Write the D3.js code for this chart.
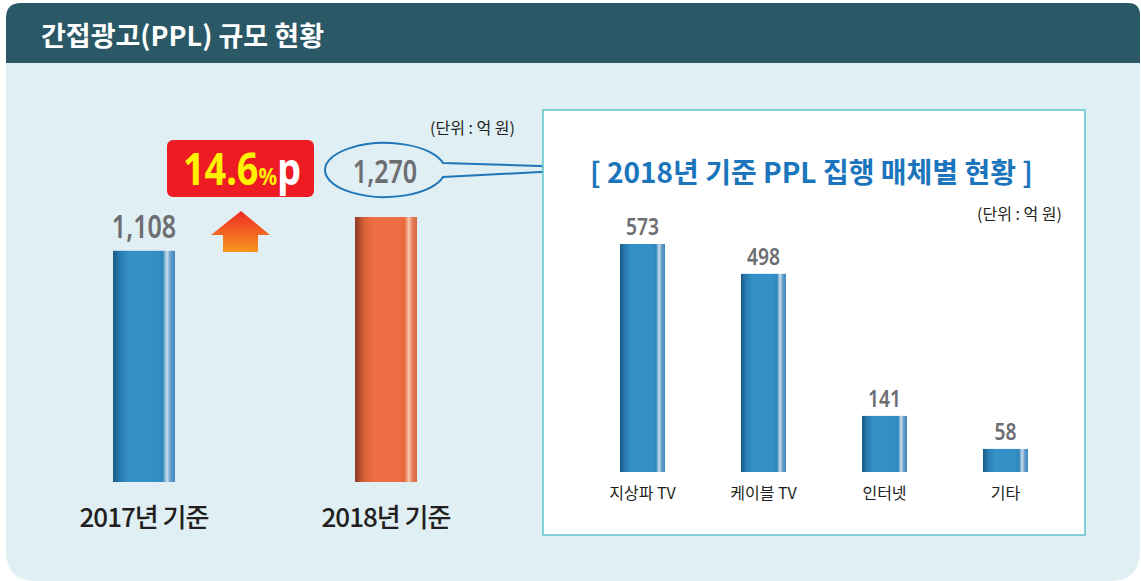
<!DOCTYPE html>
<html>
<head>
<meta charset="utf-8">
<script src="https://cdn.jsdelivr.net/npm/d3@7"></script>
<style>
  html, body { margin: 0; padding: 0; background: #ffffff; }
  svg { display: block; font-family: "Noto Sans CJK KR", "Noto Sans", sans-serif; }
</style>
</head>
<body>
<div id="chart"></div>
<script>
// data
var yearLabels = ["2017년 기준", "2018년 기준"];
var yearValues = [1108, 1270];
var mediaLabels = ["지상파 TV", "케이블 TV", "인터넷", "기타"];
var mediaValues = [573, 498, 141, 58];
var growthParts = ["14.6", "%", "p"];
var titleText = "간접광고(PPL) 규모 현황";
var subTitleText = "[ 2018년 기준 PPL 집행 매체별 현황 ]";
var unitText = "(단위 : 억 원)";

var W = 1141, H = 581;
var fmt = d3.format(",");

var svg = d3.select("#chart").append("svg")
    .attr("width", W)
    .attr("height", H);

var defs = svg.append("defs");

function hGrad(id, stops) {
    var g = defs.append("linearGradient").attr("id", id)
        .attr("x1", 0).attr("x2", 1).attr("y1", 0).attr("y2", 0);
    stops.forEach(function(s) {
        g.append("stop").attr("offset", s[0]).attr("stop-color", s[1]);
    });
}
hGrad("blueBar", [[0, "#1a5a85"], [0.12, "#2a7db3"], [0.25, "#3490c6"], [0.72, "#338fc5"],
    [0.8, "#2f86bd"], [0.87, "#cddfec"], [0.92, "#6ea3cc"], [1, "#3a86bd"]]);
hGrad("orangeBar", [[0, "#8a3a1f"], [0.15, "#d8613a"], [0.3, "#ee6e43"], [0.72, "#ee6e44"],
    [0.8, "#e8683f"], [0.87, "#f7c9af"], [0.92, "#e6825c"], [1, "#d9623d"]]);

var arrowGrad = defs.append("linearGradient").attr("id", "arrowGrad")
    .attr("x1", 0).attr("x2", 0).attr("y1", 0).attr("y2", 1);
arrowGrad.append("stop").attr("offset", 0).attr("stop-color", "#ee2a24");
arrowGrad.append("stop").attr("offset", 1).attr("stop-color", "#f8981d");

// condensed text helper (the original uses a narrow font)
function ctext(parent, x, y, sx, anchor) {
    return parent.append("text")
        .attr("transform", "translate(" + x + "," + y + ") scale(" + sx + ",1)")
        .attr("text-anchor", anchor || "middle");
}

// panel background
var panelPath = "M6,18 Q6,3 21,3 L1128,3 Q1140,3 1140,15 L1140,551 Q1140,581 1110,581 L36,581 Q6,581 6,551 Z";
svg.append("path").attr("d", panelPath).attr("fill", "#e0eff3");
svg.append("clipPath").attr("id", "headClip").append("rect")
    .attr("x", 0).attr("y", 0).attr("width", W).attr("height", 63);
svg.append("path").attr("d", panelPath).attr("fill", "#2b5866")
    .attr("clip-path", "url(#headClip)");

svg.append("text")
    .attr("x", 41).attr("y", 46)
    .attr("fill", "#ffffff")
    .style("font-size", "27px")
    .style("font-weight", 700)
    .text(titleText);

// ---------- left chart ----------
var x = d3.scaleBand()
    .domain(yearLabels)
    .range([23, 507])
    .paddingInner(0.744)
    .paddingOuter(0.372);

var y = d3.scaleLinear()
    .domain([0, 1270])
    .range([482, 217]);

var left = svg.append("g");

left.selectAll("rect.bar")
    .data(yearValues)
    .enter().append("rect")
    .attr("class", "bar")
    .attr("x", function(d, i) { return x(yearLabels[i]); })
    .attr("y", function(d) { return y(d); })
    .attr("width", x.bandwidth())
    .attr("height", function(d) { return y(0) - y(d); })
    .attr("fill", function(d, i) { return i === 0 ? "url(#blueBar)" : "url(#orangeBar)"; });

yearLabels.forEach(function(lab, i) {
    var cx = x(lab) + x.bandwidth() / 2;
    left.append("text")
        .attr("x", cx).attr("y", 527)
        .attr("text-anchor", "middle")
        .attr("fill", "#231f20")
        .style("font-size", "26px")
        .style("font-weight", 500)
        .style("letter-spacing", "-1px")
        .text(lab);
});

// 2017 value label above its bar
var cx0 = x(yearLabels[0]) + x.bandwidth() / 2;
ctext(left, cx0, y(yearValues[0]) - 13, 0.76)
    .attr("fill", "#6d6e71")
    .style("font-family", "'Noto Sans', sans-serif")
    .style("font-size", "33px")
    .style("font-weight", 600)
    .text(fmt(yearValues[0]));

// 2018 value in a speech bubble
var cx1 = x(yearLabels[1]) + x.bandwidth() / 2 - 1;
var cy1 = y(yearValues[1]) - 47;
var rx = 60, ry = 27;
var ax = cx1 + rx * Math.sqrt(1 - Math.pow(7 / ry, 2));
left.append("path")
    .attr("d", "M" + ax + "," + (cy1 - 7) +
        " A" + rx + " " + ry + " 0 1 0 " + ax + "," + (cy1 + 7) +
        " L540," + (cy1 + 2) + " L582," + cy1 + " L540," + (cy1 - 4) + " Z")
    .attr("fill", "none")
    .attr("stroke", "#1f76b9")
    .attr("stroke-width", 2);

ctext(left, cx1, cy1 + 13, 0.76)
    .attr("fill", "#6d6e71")
    .style("font-family", "'Noto Sans', sans-serif")
    .style("font-size", "33px")
    .style("font-weight", 600)
    .text(fmt(yearValues[1]));

left.append("text")
    .attr("x", 515).attr("y", 134)
    .attr("text-anchor", "end")
    .attr("fill", "#231f20")
    .style("font-size", "16px")
    .text(unitText);

// growth badge + arrow
left.append("rect")
    .attr("x", 167).attr("y", 140)
    .attr("width", 147).attr("height", 57)
    .attr("rx", 6)
    .attr("fill", "#ed1c24");

var badge = ctext(left, 242, 185, 0.86)
    .style("font-family", "'Noto Sans', sans-serif")
    .style("font-weight", 700);
badge.append("tspan").attr("fill", "#fff200").style("font-size", "44px").text(growthParts[0]);
badge.append("tspan").attr("fill", "#fff200").style("font-size", "24px").text(growthParts[1]);
badge.append("tspan").attr("fill", "#ffffff").style("font-size", "44px").text(growthParts[2]);

var ax0 = 241;
left.append("path")
    .attr("d", "M" + ax0 + ",211 L" + (ax0 + 29) + ",235 L" + (ax0 + 17) + ",235 L" + (ax0 + 17) +
        ",252 L" + (ax0 - 18) + ",252 L" + (ax0 - 18) + ",235 L" + (ax0 - 30) + ",235 Z")
    .attr("fill", "url(#arrowGrad)");

// ---------- right chart ----------
var right = svg.append("g");

right.append("rect")
    .attr("x", 543).attr("y", 110)
    .attr("width", 542).attr("height", 425)
    .attr("fill", "#ffffff")
    .attr("stroke", "#5ec3cb")
    .attr("stroke-width", 1.5);

right.append("text")
    .attr("x", 590).attr("y", 183)
    .attr("fill", "#1b75bc")
    .style("font-size", "28px")
    .style("font-weight", 700)
    .text(subTitleText);

right.append("text")
    .attr("x", 1062).attr("y", 220)
    .attr("text-anchor", "end")
    .attr("fill", "#231f20")
    .style("font-size", "16px")
    .text(unitText);

var x2 = d3.scaleBand()
    .domain(mediaLabels)
    .range([582, 1066])
    .paddingInner(0.628)
    .paddingOuter(0.314);

var y2 = d3.scaleLinear()
    .domain([0, 573])
    .range([472, 244]);

right.selectAll("rect.bar")
    .data(mediaValues)
    .enter().append("rect")
    .attr("class", "bar")
    .attr("x", function(d, i) { return x2(mediaLabels[i]); })
    .attr("y", function(d) { return y2(d); })
    .attr("width", x2.bandwidth())
    .attr("height", function(d) { return y2(0) - y2(d); })
    .attr("fill", "url(#blueBar)");

mediaValues.forEach(function(v, i) {
    var cx = x2(mediaLabels[i]) + x2.bandwidth() / 2;
    ctext(right, cx, y2(v) - 9, 0.8)
        .attr("fill", "#6d6e71")
        .style("font-family", "'Noto Sans', sans-serif")
        .style("font-size", "24px")
        .style("font-weight", 600)
        .text(fmt(v));
    right.append("text")
        .attr("x", cx).attr("y", 499)
        .attr("text-anchor", "middle")
        .attr("fill", "#231f20")
        .style("font-size", "16px")
        .text(mediaLabels[i]);
});
</script>
</body>
</html>
